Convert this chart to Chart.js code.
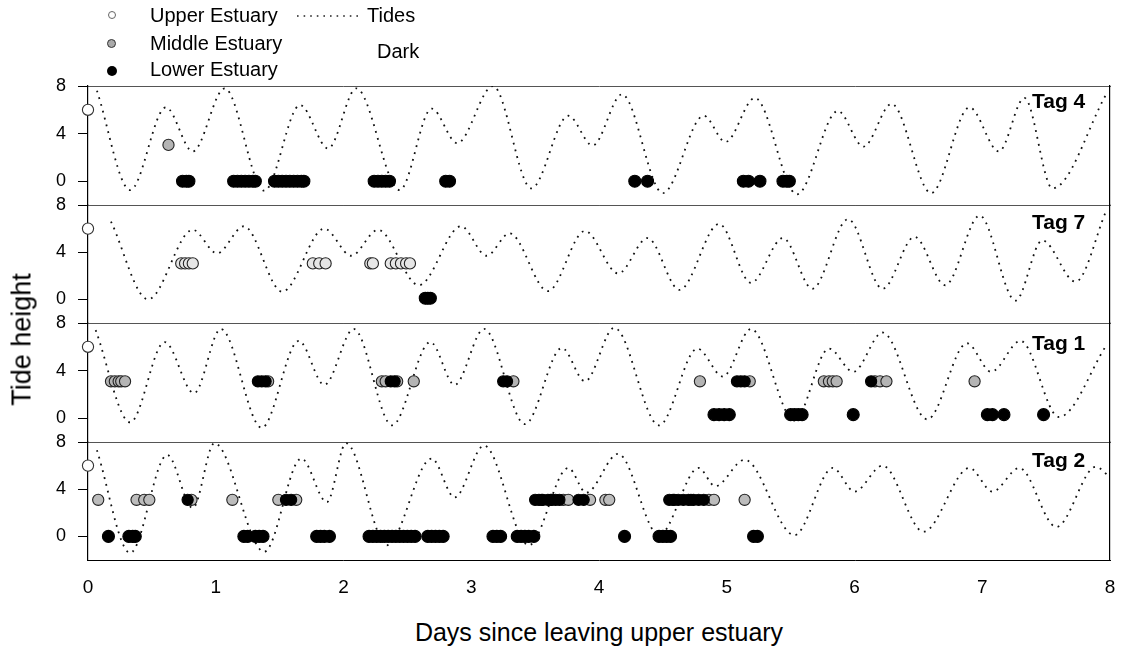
<!DOCTYPE html>
<html><head><meta charset="utf-8">
<script src="https://cdn.jsdelivr.net/npm/chart.js@4.4.1/dist/chart.umd.min.js"></script>
<style>
body{margin:0;background:#fff;width:1125px;height:651px;overflow:hidden;position:relative;font-family:"Liberation Sans",Arial,sans-serif;color:#000}
canvas{position:absolute;left:0}
.t{position:absolute;white-space:nowrap;line-height:1}
.m{position:absolute;border-radius:50%;box-sizing:border-box}
.tag{position:absolute;font-weight:bold;font-size:21px;line-height:1;white-space:nowrap}
</style></head><body>

<script>
// ---------- data ----------
const xTickValues = [0,1,2,3,4,5,6,7,8];
const yTickValues = [0,4,8];
const tagNames = ['Tag 4','Tag 7','Tag 1','Tag 2'];
const upperLevel = 6;
const middleLevels = [3.05, 3.05, 3.1, 3.1];
const lowerLevels = [0, 0.1, 0.3, 0];

// tide extremes [day, height]
const tag4Tide = [[0.07,7.6],[0.33,-0.75],[0.61,6.2],[0.82,2.5],[1.07,7.8],[1.38,-0.8],[1.66,6.4],[1.88,2.75],[2.1,7.8],[2.44,-0.75],[2.69,6.1],[2.89,3.2],[3.17,8.0],[3.47,-0.6],[3.76,5.5],[3.95,3.0],[4.18,7.3],[4.5,-1.0],[4.82,5.5],[4.99,3.3],[5.22,7.0],[5.55,-1.1],[5.87,5.9],[6.07,2.9],[6.29,6.5],[6.6,-1.0],[6.9,6.2],[7.13,2.5],[7.33,7.0],[7.55,-0.6],[7.97,7.3]];
const tag7Tide = [[0.18,6.6],[0.47,0.0],[0.82,5.9],[1.01,3.9],[1.22,6.2],[1.52,0.65],[1.85,6.0],[2.06,3.7],[2.27,5.9],[2.59,1.2],[2.92,6.2],[3.12,3.7],[3.3,5.6],[3.6,0.7],[3.89,5.8],[4.15,2.2],[4.38,5.2],[4.63,0.8],[4.94,6.4],[5.19,1.4],[5.44,5.2],[5.67,0.9],[5.95,6.8],[6.22,0.9],[6.47,5.3],[6.71,1.2],[6.98,7.1],[7.26,-0.1],[7.47,5.0],[7.73,1.5],[7.97,7.5]];
const tag1Tide = [[0.06,7.4],[0.33,-0.35],[0.6,6.4],[0.83,2.1],[1.04,7.5],[1.36,-0.8],[1.65,6.5],[1.85,2.8],[2.08,7.5],[2.38,-0.6],[2.68,6.4],[2.87,2.8],[3.1,7.5],[3.42,-0.5],[3.71,5.9],[3.89,3.1],[4.12,7.6],[4.47,-0.6],[4.77,5.85],[4.97,3.5],[5.19,7.5],[5.53,-0.2],[5.8,5.85],[5.99,3.9],[6.22,7.2],[6.57,-0.1],[6.88,6.3],[7.07,3.9],[7.3,6.5],[7.6,0.1],[7.97,6.1]];
const tag2Tide = [[0.07,7.3],[0.33,-1.4],[0.62,6.9],[0.82,2.4],[0.99,7.9],[1.38,-1.3],[1.67,6.6],[1.87,2.9],[2.02,7.9],[2.34,-0.75],[2.69,6.6],[2.87,3.3],[3.1,7.7],[3.45,-0.75],[3.76,5.8],[3.9,3.7],[4.15,7.0],[4.47,0.1],[4.78,5.8],[4.91,4.25],[5.14,6.5],[5.53,0.1],[5.83,5.8],[6.0,3.8],[6.22,6.0],[6.54,0.4],[6.9,5.8],[7.08,3.8],[7.29,5.8],[7.58,0.8],[7.89,5.9],[8.0,5.0]];

// detection days
const tag4Upper = [0];
const tag4Middle = [0.63];
const tag4Dark = [];
const tag4Lower = [0.74,0.77,0.79,1.14,1.17,1.2,1.23,1.26,1.29,1.31,1.46,1.49,1.52,1.55,1.58,1.61,1.64,1.67,1.69,2.24,2.27,2.3,2.33,2.36,2.8,2.83,4.28,4.38,5.13,5.17,5.26,5.44,5.47,5.49];

const tag7Upper = [0];
const tag7Middle = [0.73,0.76,0.79,0.82,1.76,1.81,1.86,2.21,2.23,2.37,2.41,2.45,2.49,2.52];
const tag7Dark = [];
const tag7Lower = [2.64,2.66,2.68];

const tag1Upper = [0];
const tag1Middle = [0.18,0.21,0.24,0.26,0.29,1.41,2.3,2.33,2.42,2.55,3.33,4.79,5.18,5.76,5.8,5.83,5.86,6.16,6.2,6.25,6.94];
const tag1Dark = [1.33,1.36,1.39,2.37,2.4,3.25,3.28,5.08,5.11,5.14,6.13];
const tag1Lower = [4.9,4.94,4.98,5.02,5.5,5.53,5.56,5.59,5.99,7.04,7.08,7.17,7.48];

const tag2Upper = [0];
const tag2Middle = [0.08,0.38,0.44,0.48,0.81,1.13,1.49,1.63,3.55,3.62,3.72,3.76,3.93,4.05,4.08,4.59,4.72,4.86,4.9,5.14];
const tag2Dark = [0.78,1.55,1.59,3.5,3.53,3.56,3.6,3.63,3.66,3.69,3.84,3.88,4.55,4.58,4.62,4.66,4.7,4.74,4.78,4.82];
const tag2Lower = [0.16,0.32,0.35,0.37,1.22,1.25,1.31,1.34,1.37,1.79,1.82,1.85,1.89,2.2,2.23,2.26,2.29,2.32,2.35,2.38,2.41,2.44,2.47,2.5,2.53,2.56,2.66,2.69,2.72,2.75,2.78,3.17,3.2,3.23,3.36,3.39,3.42,3.45,3.49,4.2,4.47,4.5,4.53,4.56,5.21,5.24];

const panels = [
  {tide: tag4Tide, upper: tag4Upper, middle: tag4Middle, dark: tag4Dark, lower: tag4Lower},
  {tide: tag7Tide, upper: tag7Upper, middle: tag7Middle, dark: tag7Dark, lower: tag7Lower},
  {tide: tag1Tide, upper: tag1Upper, middle: tag1Middle, dark: tag1Dark, lower: tag1Lower},
  {tide: tag2Tide, upper: tag2Upper, middle: tag2Middle, dark: tag2Dark, lower: tag2Lower}
];

// ---------- layout ----------
const panelTops = [86, 205, 323, 442];
const panelBottom = 560;
const pad = 26;
const plotLeft = 88, plotRight = 1110;
const xAxisH = 40;
const middleFills = ['#b4b4b4', '#e6e6e6', '#b4b4b4', '#bcbcbc'];
const tagLabelY = [90, 211, 332, 449];

const FONT = '"Liberation Sans", Arial, sans-serif';

function pts(days, level) { return days.map(d => ({x: d, y: level})); }

panels.forEach((p, i) => {
  const top = panelTops[i];
  const bottom = i < 3 ? panelTops[i+1] : panelBottom;
  const h = bottom - top;
  const isLast = i === 3;
  const canvas = document.createElement('canvas');
  canvas.width = 1125;
  canvas.height = pad + h + (isLast ? xAxisH : pad);
  canvas.style.top = (top - pad) + 'px';
  document.body.appendChild(canvas);

  const markerBase = {showLine: false, clip: false, pointBorderWidth: 1.1};
  new Chart(canvas, {
    type: 'scatter',
    data: {datasets: [
      Object.assign({label: 'Lower Estuary', data: pts(p.lower, lowerLevels[i]), pointRadius: 6, pointBackgroundColor: '#000', pointBorderColor: '#000', order: 1}, markerBase),
      Object.assign({label: 'Dark', data: pts(p.dark, middleLevels[i]), pointRadius: 5.6, pointBackgroundColor: '#000', pointBorderColor: '#000', order: 2}, markerBase),
      Object.assign({label: 'Middle Estuary', data: pts(p.middle, middleLevels[i]), pointRadius: 5.6, pointBackgroundColor: middleFills[i], pointBorderColor: '#222', order: 3}, markerBase),
      Object.assign({label: 'Upper Estuary', data: pts(p.upper, upperLevel), pointRadius: 5.6, pointBackgroundColor: '#fff', pointBorderColor: '#333', order: 1}, markerBase),
      {label: 'Tides', data: p.tide.map(([x,y]) => ({x, y})), showLine: true, pointRadius: 0, borderColor: '#111', borderWidth: 1.8, borderDash: [1.8, 5.2], cubicInterpolationMode: 'monotone', order: 10}
    ]},
    options: {
      responsive: false, animation: false, devicePixelRatio: 1,
      layout: {padding: {top: pad, right: 1125 - plotRight, bottom: isLast ? 0 : pad, left: 0}},
      plugins: {legend: {display: false}, tooltip: {enabled: false}},
      scales: {
        x: {
          type: 'linear', position: 'bottom', min: 0, max: 8,
          afterBuildTicks: s => { s.ticks = xTickValues.map(v => ({value: v})); },
          afterFit: s => { s.height = isLast ? xAxisH : 0; },
          ticks: {display: isLast, color: '#000', font: {family: FONT, size: 19}, padding: 0, maxRotation: 0, autoSkip: false},
          grid: {display: false, drawTicks: true, tickLength: 16},
          border: {display: true, color: isLast ? '#000' : '#555', width: 1}
        },
        xTop: {
          type: 'linear', position: 'top', min: 0, max: 8,
          afterFit: s => { s.height = 0; },
          ticks: {display: false}, grid: {display: false, drawTicks: false},
          border: {display: true, color: '#555', width: 1}
        },
        y: {
          type: 'linear', position: 'left', min: -2, max: 8,
          afterBuildTicks: s => { s.ticks = yTickValues.map(v => ({value: v})); },
          afterFit: s => { s.width = plotLeft; },
          ticks: {color: '#000', font: {family: FONT, size: 18}, padding: 12},
          grid: {drawOnChartArea: false, tickLength: 10, color: '#000', lineWidth: 1},
          border: {display: true, color: '#000', width: 1.2}
        },
        yRight: {
          type: 'linear', position: 'right', min: -2, max: 8,
          afterFit: s => { s.width = 0; },
          ticks: {display: false}, grid: {display: false, drawTicks: false},
          border: {display: true, color: '#000', width: 1.2}
        }
      }
    }
  });

  const lab = document.createElement('div');
  lab.className = 'tag';
  lab.textContent = tagNames[i];
  lab.style.left = '1032px';
  lab.style.top = tagLabelY[i] + 'px';
  document.body.appendChild(lab);
});
</script>

<!-- legend -->
<div class="m" style="left:107.5px;top:11px;width:8px;height:8px;border:1px solid #666;background:#fff"></div>
<div class="m" style="left:107px;top:38.5px;width:9px;height:9px;border:1px solid #333;background:#aaa"></div>
<div class="m" style="left:106.5px;top:66px;width:10px;height:10px;background:#000"></div>
<div class="t" style="left:150px;top:5px;font-size:20px">Upper Estuary</div>
<div class="t" style="left:150px;top:33px;font-size:20px">Middle Estuary</div>
<div class="t" style="left:150px;top:59px;font-size:20px">Lower Estuary</div>
<svg style="position:absolute;left:296px;top:12px" width="64" height="8"><line x1="1" y1="4" x2="62" y2="4" stroke="#222" stroke-width="1.6" stroke-dasharray="1.6 5"/></svg>
<div class="t" style="left:367px;top:5px;font-size:20px">Tides</div>
<div class="t" style="left:377px;top:41px;font-size:20px">Dark</div>

<!-- axis titles -->
<div class="t" style="left:-78px;top:326px;width:200px;text-align:center;font-size:27px;transform:rotate(-90deg)">Tide height</div>
<div class="t" style="left:399px;top:620px;width:400px;text-align:center;font-size:25px">Days since leaving upper estuary</div>
</body></html>
